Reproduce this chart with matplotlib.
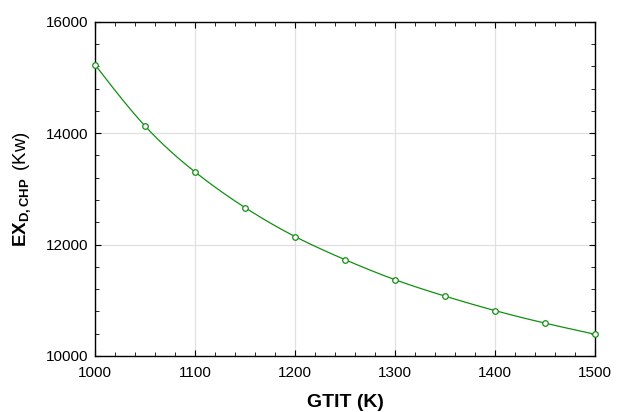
import numpy as np
import matplotlib
matplotlib.use("Agg")
import matplotlib.pyplot as plt
from matplotlib.ticker import MultipleLocator

plt.rcParams['font.family'] = ['Liberation Sans', 'DejaVu Sans']
plt.rcParams['mathtext.fontset'] = 'custom'
plt.rcParams['mathtext.rm'] = 'Liberation Sans'
plt.rcParams['mathtext.bf'] = 'Liberation Sans:bold'
plt.rcParams['mathtext.it'] = 'Liberation Sans:italic'

gtit = [1000, 1050, 1100, 1150, 1200, 1250, 1300, 1350, 1400, 1450, 1500]
ex_d_chp = [15230, 14130, 13305, 12665, 12145, 11730, 11370, 11075, 10815, 10590, 10390]


def natural_spline(x, y, xs):
    x = np.asarray(x, float)
    y = np.asarray(y, float)
    n = len(x)
    h = np.diff(x)
    A = np.zeros((n, n))
    b = np.zeros(n)
    A[0, 0] = A[-1, -1] = 1
    for i in range(1, n - 1):
        A[i, i - 1] = h[i - 1]
        A[i, i] = 2 * (h[i - 1] + h[i])
        A[i, i + 1] = h[i]
        b[i] = 3 * ((y[i + 1] - y[i]) / h[i] - (y[i] - y[i - 1]) / h[i - 1])
    c = np.linalg.solve(A, b)
    idx = np.clip(np.searchsorted(x, xs) - 1, 0, n - 2)
    dx = xs - x[idx]
    bb = (y[idx + 1] - y[idx]) / h[idx] - h[idx] * (2 * c[idx] + c[idx + 1]) / 3
    d = (c[idx + 1] - c[idx]) / (3 * h[idx])
    return y[idx] + bb * dx + c[idx] * dx ** 2 + d * dx ** 3


fig = plt.figure(figsize=(6.21, 4.12), dpi=100)
ax = fig.add_axes([0.153, 0.136, 0.805, 0.811])

xs = np.linspace(gtit[0], gtit[-1], 400)
ax.plot(xs, natural_spline(gtit, ex_d_chp, xs), color='#109010', lw=0.9, zorder=3)
ax.plot(gtit, ex_d_chp, linestyle='none', marker='o', ms=4, mfc='white',
        mec='#109010', mew=0.9, zorder=4, clip_on=False)

ax.set_xlim(1000, 1500)
ax.set_ylim(10000, 16000)
ax.xaxis.set_major_locator(MultipleLocator(100))
ax.xaxis.set_minor_locator(MultipleLocator(20))
ax.yaxis.set_major_locator(MultipleLocator(2000))
ax.yaxis.set_minor_locator(MultipleLocator(400))
ax.grid(True, which='major', color='#e0e0e0', lw=0.9)
ax.set_axisbelow(True)
ax.tick_params(which='both', direction='in', top=True, right=True,
               labelsize=11, colors='black')
ax.tick_params(which='major', length=4)
ax.tick_params(axis='x', which='major', pad=7)
ax.tick_params(axis='y', which='major', pad=5)
ax.tick_params(which='minor', length=3)
for s in ax.spines.values():
    s.set_linewidth(1.0)

ax.set_xlabel('GTIT (K)', fontsize=14, fontweight='bold', labelpad=10)
ax.set_ylabel(r'$\mathbf{EX_{D,CHP}}\,$ (Kw)', fontsize=13.5, labelpad=9)

fig.savefig('out.png', dpi=100)
